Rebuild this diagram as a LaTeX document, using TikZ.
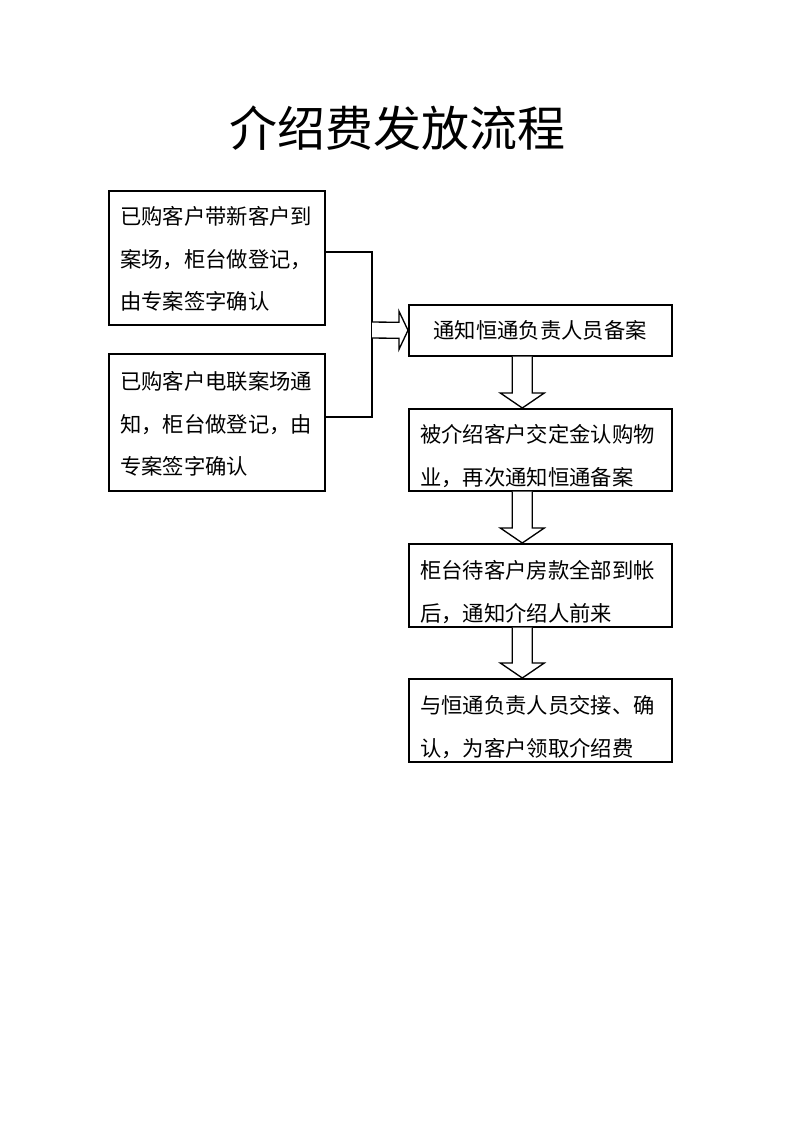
\documentclass[tikz,border=0pt]{standalone}
\usepackage{fontspec}
\usepackage{tikz}
\usetikzlibrary{calc}
\newfontfamily\cjk{Noto Sans CJK SC}

\tikzset{
  box/.style={draw,line width=1.2pt,rectangle,anchor=north west,inner sep=0pt},
  txt/.style={anchor=north west,inner sep=0pt,align=left,
    font=\cjk\fontsize{16pt}{32pt}\selectfont},
  hollow/.style={draw,line width=1pt,fill=white,line join=miter}
}
% hollow arrow pointing down, from node #1 to node #2
\newcommand{\hollowdn}[2]{%
  \draw[hollow] ($(#1.south)+(-28,0)$) -- ($(#2.north)+(-28,-15)$)
    -- ($(#2.north)+(-40,-15)$) -- ($(#2.north)+(-18,0)$)
    -- ($(#2.north)+(4,-15)$) -- ($(#2.north)+(-8,-15)$)
    -- ($(#1.south)+(-8,0)$);}

\begin{document}
\begin{tikzpicture}[x=0.75pt,y=-0.75pt]
\useasboundingbox (0,0) rectangle (793,1122);

\node[font=\cjk\fontsize{36pt}{40pt}\selectfont] (title) at (397,128) {介绍费发放流程};

% left boxes (sizes in pt: 1px = 0.75pt)
\node[box,minimum width=162pt,minimum height=100.5pt] (a) at (108,190) {};
\node[txt] (atext) at ($(a.north west)+(12,16)$) {已购客户带新客户到\\案场，柜台做登记，\\由专案签字确认};
\node[box,minimum width=162pt,minimum height=102.75pt] (b) at (108,353) {};
\node[txt] (btext) at ($(b.north west)+(12,18)$) {已购客户电联案场通\\知，柜台做登记，由\\专案签字确认};

% right column
\node[box,minimum width=197.25pt,minimum height=38.25pt] (c) at (408,304) {};
\node[anchor=center,inner sep=0pt,font=\cjk\fontsize{16pt}{32pt}\selectfont] (ctext) at (c.center) {通知恒通负责人员备案};
\node[box,minimum width=197.25pt,minimum height=61.5pt] (d) at (408,408) {};
\node[txt] (dtext) at ($(d.north west)+(12,16)$) {被介绍客户交定金认购物\\业，再次通知恒通备案};
\node[box,minimum width=197.25pt,minimum height=62.25pt] (e) at (408,543) {};
\node[txt] (etext) at ($(e.north west)+(12,17)$) {柜台待客户房款全部到帐\\后，通知介绍人前来};
\node[box,minimum width=197.25pt,minimum height=62.25pt] (f) at (408,678) {};
\node[txt] (ftext) at ($(f.north west)+(12,17)$) {与恒通负责人员交接、确\\认，为客户领取介绍费};

% joining lines
\coordinate (ja) at (372,252);
\coordinate (jb) at (372,417);
\draw[line width=1.2pt] (a.east |- ja) -- (ja) -- (jb) -- (b.east |- jb);

% hollow arrow into c
\draw[hollow] (372,322) -- ($(c.west)+(-9,-8)$) -- ($(c.west)+(-9,-19)$)
  -- (c.west) -- ($(c.west)+(-9,19)$) -- ($(c.west)+(-9,8)$) -- (372,338);

\hollowdn{c}{d}
\hollowdn{d}{e}
\hollowdn{e}{f}
\end{tikzpicture}
\end{document}
